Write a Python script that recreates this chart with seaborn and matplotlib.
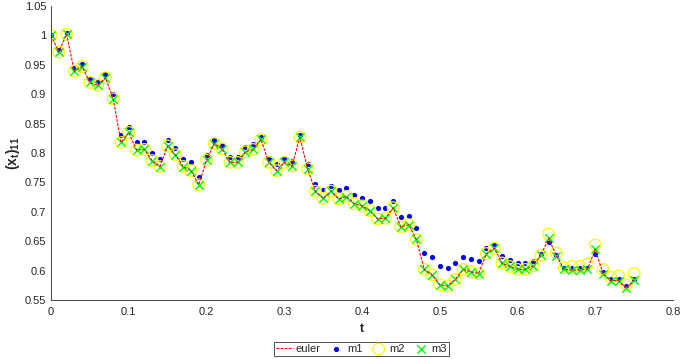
import seaborn as sns
import matplotlib.pyplot as plt
import numpy as np
from matplotlib.ticker import FuncFormatter

# time grid (step 0.01)
t = [0.00, 0.01, 0.02, 0.03, 0.04, 0.05, 0.06, 0.07, 0.08, 0.09,
     0.10, 0.11, 0.12, 0.13, 0.14, 0.15, 0.16, 0.17, 0.18, 0.19,
     0.20, 0.21, 0.22, 0.23, 0.24, 0.25, 0.26, 0.27, 0.28, 0.29,
     0.30, 0.31, 0.32, 0.33, 0.34, 0.35, 0.36, 0.37, 0.38, 0.39,
     0.40, 0.41, 0.42, 0.43, 0.44, 0.45, 0.46, 0.47, 0.48, 0.49,
     0.50, 0.51, 0.52, 0.53, 0.54, 0.55, 0.56, 0.57, 0.58, 0.59,
     0.60, 0.61, 0.62, 0.63, 0.64, 0.65, 0.66, 0.67, 0.68, 0.69,
     0.70, 0.71, 0.72, 0.73, 0.74, 0.75]

euler = [1.000, 0.972, 1.002, 0.939, 0.947, 0.920, 0.915, 0.928, 0.892, 0.818,
         0.835, 0.805, 0.806, 0.787, 0.777, 0.812, 0.797, 0.777, 0.770, 0.746,
         0.788, 0.816, 0.807, 0.784, 0.784, 0.802, 0.806, 0.823, 0.784, 0.770,
         0.784, 0.778, 0.827, 0.773, 0.735, 0.723, 0.735, 0.722, 0.726, 0.714,
         0.710, 0.702, 0.688, 0.689, 0.707, 0.674, 0.678, 0.653, 0.602, 0.593,
         0.576, 0.574, 0.585, 0.602, 0.598, 0.595, 0.629, 0.638, 0.613, 0.607,
         0.602, 0.602, 0.608, 0.626, 0.655, 0.625, 0.602, 0.601, 0.601, 0.603,
         0.636, 0.595, 0.583, 0.583, 0.570, 0.584]

m1 = [1.000, 0.975, 1.004, 0.944, 0.951, 0.926, 0.922, 0.934, 0.900, 0.831,
      0.845, 0.818, 0.819, 0.800, 0.790, 0.822, 0.808, 0.790, 0.784, 0.759,
      0.797, 0.822, 0.814, 0.794, 0.793, 0.810, 0.815, 0.828, 0.791, 0.781,
      0.792, 0.787, 0.830, 0.782, 0.747, 0.737, 0.744, 0.737, 0.740, 0.729,
      0.723, 0.718, 0.706, 0.707, 0.718, 0.692, 0.693, 0.673, 0.630, 0.623,
      0.607, 0.605, 0.613, 0.624, 0.620, 0.617, 0.639, 0.644, 0.625, 0.618,
      0.613, 0.613, 0.616, 0.629, 0.648, 0.627, 0.605, 0.605, 0.604, 0.605,
      0.628, 0.598, 0.586, 0.586, 0.574, 0.586]

# m2 matches euler up to t=0.63, then drifts a little
m2 = euler[:64] + [0.662, 0.630, 0.605, 0.607, 0.607, 0.611,
                   0.644, 0.602, 0.589, 0.591, 0.576, 0.595]
m3 = list(euler)

sns.set_style("white")
plt.rcParams['font.family'] = ['Liberation Sans', 'DejaVu Sans']
plt.rcParams['mathtext.fontset'] = 'custom'
plt.rcParams['mathtext.bf'] = 'Liberation Sans:bold'
plt.rcParams['mathtext.rm'] = 'Liberation Sans'
plt.rcParams['mathtext.it'] = 'Liberation Sans:italic'

fig = plt.figure(figsize=(6.85, 3.59), dpi=100)
ax = fig.add_axes([0.0745, 0.1643, 0.908, 0.819])

sns.lineplot(x=t, y=euler, ax=ax, color='red', linestyle=(0, (2.5, 1.2)),
             linewidth=0.8, label='euler')
sns.scatterplot(x=t, y=m1, ax=ax, color='blue', marker='o', s=14,
                linewidth=0, label='m1')
sns.scatterplot(x=t, y=m2, ax=ax, marker='o', s=70, facecolor='none',
                edgecolor='yellow', linewidth=0.9, label='m2')
sns.scatterplot(x=t, y=m3, ax=ax, color='#00ff00', marker='x', s=36,
                linewidth=1.0, label='m3')

ax.set_xlim(0, 0.8)
ax.set_ylim(0.55, 1.05)
ax.set_xticks([0, 0.1, 0.2, 0.3, 0.4, 0.5, 0.6, 0.7, 0.8])
ax.set_yticks([0.55, 0.6, 0.65, 0.7, 0.75, 0.8, 0.85, 0.9, 0.95, 1.0, 1.05])
fmt = FuncFormatter(lambda v, p: '%g' % round(v, 2))
ax.xaxis.set_major_formatter(fmt)
ax.yaxis.set_major_formatter(fmt)
ax.tick_params(direction='in', length=4, width=0.6, labelsize=8, colors='#262626')
ax.tick_params(axis='x', pad=5)
for s in ['top', 'right']:
    ax.spines[s].set_visible(False)
for s in ['left', 'bottom']:
    ax.spines[s].set_color('#262626')
    ax.spines[s].set_linewidth(0.6)

ax.set_xlabel('t', fontsize=9, fontweight='bold', labelpad=4)
ax.set_ylabel(r'$\mathbf{(x_t)_{11}}$', fontsize=10, labelpad=2)

handles, labels = ax.get_legend_handles_labels()
ax.get_legend().remove()
leg = fig.legend(handles, labels, loc='center', bbox_to_anchor=(0.528, 0.028),
                 ncol=4, fontsize=8, frameon=True, fancybox=False,
                 handlelength=1.5, handletextpad=0.2, columnspacing=0.7,
                 borderpad=0.2, borderaxespad=0)
leg.get_frame().set_edgecolor('black')
leg.get_frame().set_linewidth(0.6)

plt.savefig('out.png', dpi=100)
